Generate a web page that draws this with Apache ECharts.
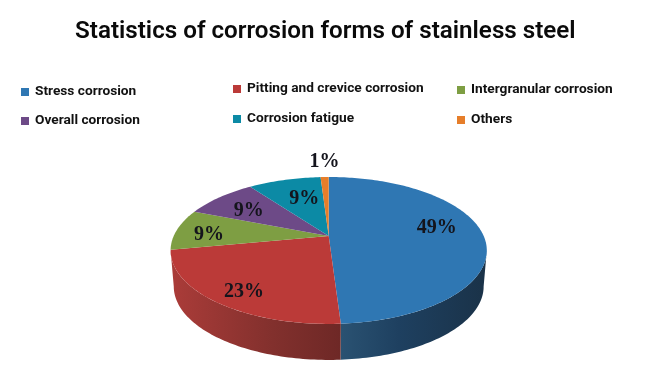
<!DOCTYPE html>
<html>
<head>
<meta charset="utf-8">
<style>html,body{margin:0;padding:0;background:#fff}#c{width:650px;height:365px}</style>
<script src="https://cdn.jsdelivr.net/npm/echarts@6/dist/echarts.min.js"></script>
</head>
<body>
<div id="c"></div>
<script>
const categories = ['Stress corrosion','Pitting and crevice corrosion','Intergranular corrosion','Overall corrosion','Corrosion fatigue','Others'];
const values = [49,23,9,9,9,1];
const titleText = 'Statistics of corrosion forms of stainless steel';

const colors = ['#2f77b3','#bb3a38','#7e9e43','#6d4a87','#0c8aa5','#e67e2a'];
const labelReach = [0.70,0.80,0.78,0.70,0.58,1.37];
const labelNudge = [[0,-7],[2,5],[-1,4],[-1,3],[3,-2],[1,2]];
const wallStops = [
  [[0,'#1a3248'],[0.6,'#1e4060'],[1,'#2a5272']],
  [[0,'#ab3c39'],[0.6,'#82302d'],[1,'#6e2826']]
];
const PIE = {cx:328.7, cy:236, bx:155, by:70.6, p:0.197, depth:36, wallX:0.98};
const total = values.reduce((a,b)=>a+b,0);
const FONT = 'Roboto, sans-serif';

function project(a, r, bottom){
  const u = Math.sin(a)*r, v = Math.cos(a)*r, d = 1 + PIE.p*v;
  const x = PIE.bx*u/d, y = -PIE.by*v/d;
  return bottom ? [PIE.cx + x*PIE.wallX, PIE.cy + y + PIE.depth] : [PIE.cx + x, PIE.cy + y];
}
function arc(a0, a1, bottom){
  const n = Math.max(2, Math.ceil(Math.abs(a1-a0)/0.02)), pts = [];
  for(let i=0;i<=n;i++) pts.push(project(a0+(a1-a0)*i/n, 1, bottom));
  return pts;
}
function wedge(index){
  return function(params, api){
    const before = values.slice(0,index).reduce((a,b)=>a+b,0);
    const a0 = before/total*2*Math.PI, a1 = (before+api.value(0))/total*2*Math.PI;
    const children = [];
    const lo = Math.max(a0, Math.PI - Math.acos(PIE.p)), hi = Math.min(a1, Math.PI + Math.acos(PIE.p));
    if(hi > lo && wallStops[index]){
      const pts = arc(lo,hi,false).concat(arc(hi,lo,true));
      const xs = pts.map(p=>p[0]), minX = Math.min(...xs), maxX = Math.max(...xs);
      const stops = wallStops[index].map(s=>({offset:s[0], color:s[1]}));
      const flip = index === 0 ? [maxX,minX] : [minX,maxX];
      children.push({type:'polygon', shape:{points:pts}, z2:1,
        style:{fill:new echarts.graphic.LinearGradient(flip[0],0,flip[1],0,stops,true)}});
    }
    children.push({type:'polygon', z2:2,
      shape:{points:[[PIE.cx,PIE.cy]].concat(arc(a0,a1,false))},
      style:{fill:colors[index]}});
    const pos = project((a0+a1)/2, labelReach[index], false);
    children.push({type:'text', z2:10, x:pos[0]+labelNudge[index][0], y:pos[1]+labelNudge[index][1],
      style:{text:api.value(0)+'%', fill:'#14141c', align:'center', verticalAlign:'middle',
             font:'bold 20px "Liberation Serif", serif'}});
    return {type:'group', children};
  };
}
const series = categories.map((name,i)=>({
  type:'custom', name, coordinateSystem:'none', colorBy:'series',
  itemStyle:{color:colors[i]}, silent:true, animation:false,
  data:[[values[i]]], renderItem:wedge(i)
}));
function legend(names,left,top,gap){
  return {show:true, orient:'vertical', left, top, itemGap:gap, padding:0, selectedMode:false,
    icon:'rect', itemWidth:8, itemHeight:8, data:names,
    textStyle:{fontFamily:FONT, fontWeight:700, fontSize:13.7, color:'#111', padding:[0,0,0,1]}};
}
const chart = echarts.init(document.getElementById('c'), null, {renderer:'canvas'});
chart.setOption({
  backgroundColor:'#fff', animation:false,
  title:{text:titleText, left:75, top:20, padding:0,
    textStyle:{fontFamily:FONT, fontWeight:600, fontSize:24.2, color:'#0a0a0a'}},
  legend:[
    legend([categories[0],categories[3]],21,85,15),
    legend([categories[1],categories[4]],233,82,16),
    legend([categories[2],categories[5]],457,83,16)
  ],
  series
});
</script>
</body>
</html>
